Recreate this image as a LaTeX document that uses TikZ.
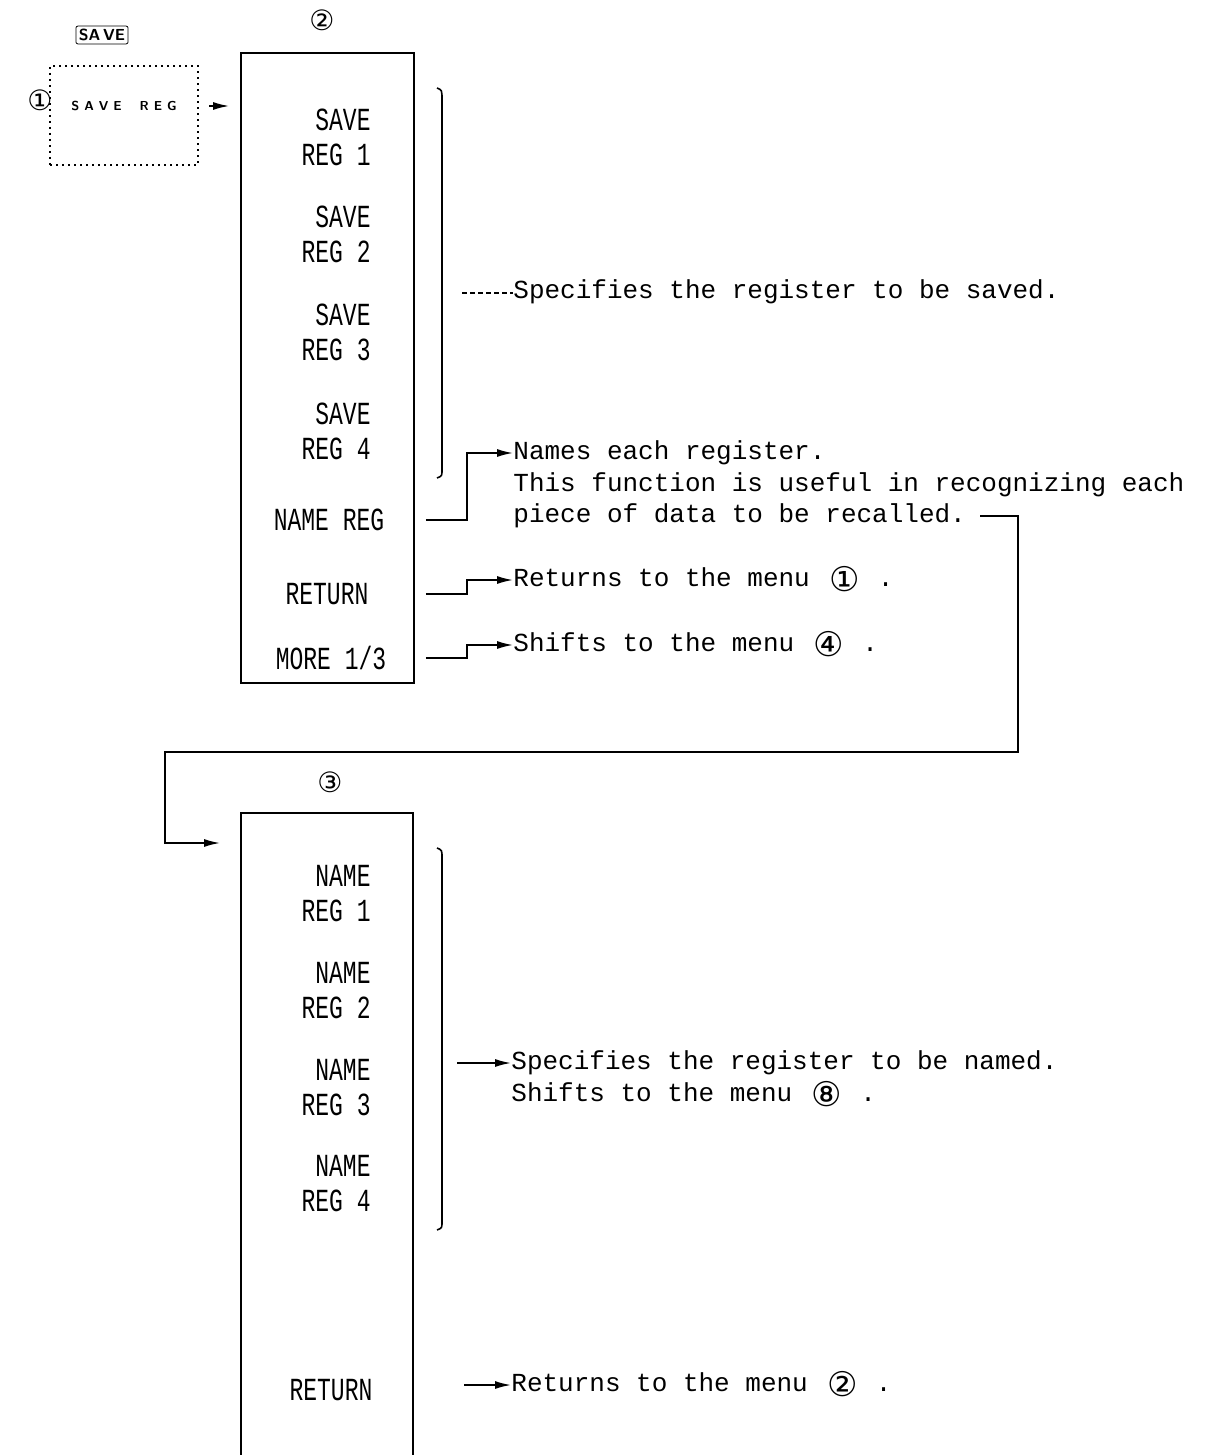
\documentclass[tikz,border=0pt]{standalone}
\usepackage{graphicx}
\usepackage{fontspec}
\setmonofont{Liberation Mono}
\newfontfamily\symfont{DejaVu Sans}
\usetikzlibrary{arrows.meta,calc}

\newcommand\tallc[1]{\scalebox{1}[1.4]{#1}}
\newcommand\cnum[1]{\hspace{2pt}\raisebox{-2.5pt}{\symfont\fontsize{17}{17}\selectfont#1}\hspace{9pt}}

\tikzset{
  menubox/.style={draw,line width=0.9pt,inner sep=0pt},
  item/.style={font=\ttfamily\fontsize{11.5}{17.5}\selectfont,align=right,inner sep=0pt},
  desc/.style={font=\ttfamily\fontsize{13}{16}\selectfont,anchor=west,inner sep=0pt,text height=9pt,text depth=3pt},
  menunum/.style={font=\symfont\fontsize{14}{14}\selectfont,inner sep=0pt},
  conn/.style={line width=0.8pt},
  arr/.style={conn,-{Latex[length=8pt,width=4pt]}},
  brace/.style={line width=0.8pt},
}

\begin{document}
\begin{tikzpicture}[x=0.5pt,y=-0.5pt]
  \useasboundingbox (0,0) rectangle (1214,1455);
  % Menu 1
  \node[draw,rounded corners=1pt,inner sep=1.5pt,font=\sffamily\bfseries\fontsize{8}{8}\selectfont] (savekey) at (102,35) {SA\,VE};
  \node[menunum] (mone) at (40,100) {①};
  \node[draw,dotted,line width=1pt,minimum width=74pt,minimum height=49.5pt] (savereg) at (124,115.5) {};
  \node[font=\sffamily\bfseries\fontsize{6.5}{7}\selectfont,inner sep=0pt] (savetxt) at (124,106)
    {S\hspace{2.5pt}A\hspace{2.5pt}V\hspace{2.5pt}E\hspace{9pt}R\hspace{2.5pt}E\hspace{2.5pt}G};

  % Menu 2
  \node[menunum] (mtwo) at (322,20) {②};
  \node[menubox,minimum width=86.5pt,minimum height=315pt] (menutwo) at (327.5,368) {};
  \draw[arr] ([xshift=5pt]savereg.east |- savetxt) -- ([xshift=-5.5pt]menutwo.west |- savetxt);
  \node[item,anchor=east] (sone) at (371,137) {\tallc{SAVE}\\\tallc{REG 1}};
  \node[item,anchor=east] (stwo) at (371,234) {\tallc{SAVE}\\\tallc{REG 2}};
  \node[item,anchor=east] (sthree) at (371,332) {\tallc{SAVE}\\\tallc{REG 3}};
  \node[item,anchor=east] (sfour) at (371,431) {\tallc{SAVE}\\\tallc{REG 4}};
  \node[item] (nreg) at (329,520) {\tallc{NAME REG}};
  \node[item] (rtwo) at (327,594) {\tallc{RETURN}};
  \node[item] (more) at (331,658) {\tallc{MORE 1/3}};

  \draw[brace] (437,88) .. controls (442,90) .. (442,100) -- (442,470) .. controls (442,476) .. (437,478);
  \coordinate (bsave) at (442,293);

  \node[desc] (dsaved) at (513,293) {Specifies the register to be saved.};
  \draw[conn,line width=0.6pt,dash pattern=on 2.5pt off 1.5pt] ([xshift=10pt]bsave) -- (dsaved.west);

  \node[desc] (dnamea) at (513,453) {Names each register.};
  \node[desc] (dnameb) at (513,485) {This function is useful in recognizing each};
  \node[desc] (dnamec) at (513,516) {piece of data to be recalled.};
  \node[desc] (dretone) at (513,580) {Returns to the menu \cnum{①}.};
  \node[desc] (dfour) at (513,645) {Shifts to the menu \cnum{④}.};
  \draw[arr] ([xshift=5.5pt]menutwo.east |- nreg) -- ++(41,0) |- (dnamea.west);
  \draw[arr] ([xshift=5.5pt]menutwo.east |- rtwo) -- ++(41,0) |- (dretone.west);
  \draw[arr] ([xshift=5.5pt]menutwo.east |- more) -- ++(41,0) |- (dfour.west);

  % Menu 3
  \coordinate (turn) at (1018,752);
  \coordinate (inthree) at (220,843);
  \draw[arr] ([xshift=7pt]dnamec.east) -| (turn) -| ([xshift=-27.5pt]inthree) -- (inthree);

  \node[menunum] (mthree) at (330,782) {③};
  \draw[menubox] (241,1455) |- (413,813) -- (413,1455);
  \coordinate (mthreeeast) at (413,813);
  \node[item,anchor=east] (none) at (371,894) {\tallc{NAME}\\\tallc{REG 1}};
  \node[item,anchor=east] (ntwo) at (371,991) {\tallc{NAME}\\\tallc{REG 2}};
  \node[item,anchor=east] (nthree) at (371,1088) {\tallc{NAME}\\\tallc{REG 3}};
  \node[item,anchor=east] (nfour) at (371,1184) {\tallc{NAME}\\\tallc{REG 4}};
  \node[item] (rthree) at (331,1390) {\tallc{RETURN}};

  \draw[brace] (437,848) .. controls (442,850) .. (442,858) -- (442,1222) .. controls (442,1228) .. (437,1230);
  \coordinate (bname) at (442,1063);

  \node[desc] (dnamed) at (511,1063) {Specifies the register to be named.};
  \node[desc] (deight) at (511,1095) {Shifts to the menu \cnum{⑧}.};
  \draw[arr] ([xshift=7.5pt]bname) -- (dnamed.west);

  \node[desc] (drettwo) at (511,1385) {Returns to the menu \cnum{②}.};
  \draw[arr] ([xshift=25.5pt]mthreeeast |- drettwo.west) -- (drettwo.west);
\end{tikzpicture}
\end{document}
